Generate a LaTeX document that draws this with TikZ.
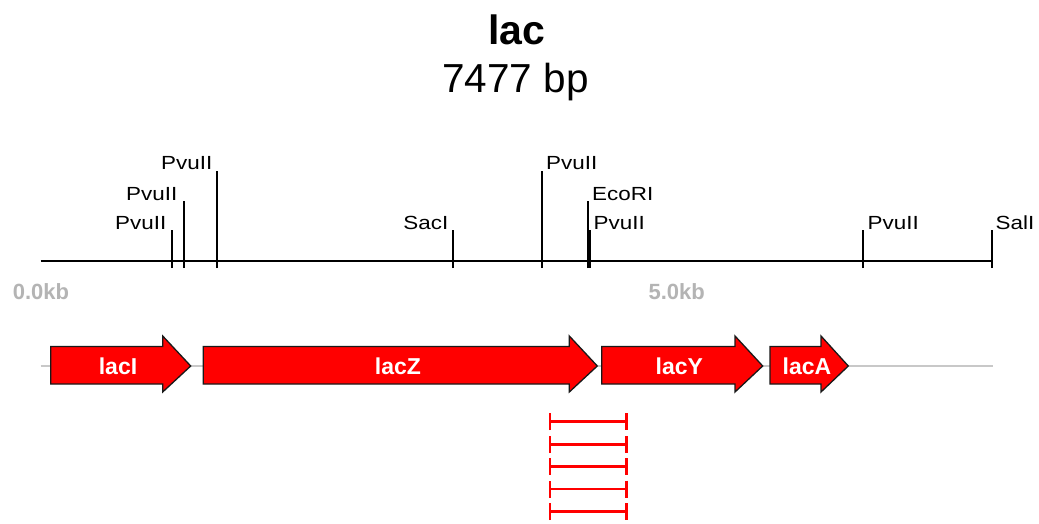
\documentclass[tikz,border=0pt]{standalone}
\usepackage{fontspec}
\setmainfont{Liberation Sans}
\newfontfamily\sitefont[FakeStretch=1.18]{Liberation Sans}
\usetikzlibrary{arrows.meta}
\definecolor{genered}{RGB}{255,0,0}
\definecolor{scalegray}{RGB}{180,180,180}
\definecolor{backbone}{RGB}{200,200,200}

\begin{document}
\begin{tikzpicture}[x=1pt, y=-1pt,
        cut/.style={line width=1.8pt, black},
        site/.style={font=\sitefont\fontsize{19}{21}\selectfont, inner sep=0pt},
        ruler/.style={font=\bfseries\fontsize{22}{24}\selectfont, text=scalegray, inner sep=0pt, anchor=base},
        gene/.style={draw=black!90, line width=1.3pt, fill=genered},
        genelabel/.style={font=\bfseries\fontsize{23}{25}\selectfont, text=white, inner sep=0pt, anchor=base},
        frag/.style={line width=2.4pt, genered, {Bar[width=17pt]}-{Bar[width=17pt]}}
    ]
        \useasboundingbox[fill=white] (0,0) rectangle (1039,524);

        % === Title ===
        \node[font=\bfseries\fontsize{41}{44}\selectfont, anchor=base] (title) at (516.7,45) {lac};
        \node[font=\fontsize{40.5}{44}\selectfont, anchor=base] (size) at (515.5,92.3) {7477 bp};

        % === Restriction map ===
        \draw[line width=2pt] (40.7,261) -- (992,261);
        \draw[cut] (172,268) -- (172,230);
        \draw[cut] (183.7,268) -- (183.7,201);
        \draw[cut] (217.3,268) -- (217.3,170.7);
        \draw[cut] (453,268) -- (453,230);
        \draw[cut] (542.3,268) -- (542.3,170.7);
        \draw[cut] (588.3,268) -- (588.3,201);
        \draw[cut] (590,268) -- (590,230);
        \draw[cut] (863.3,268) -- (863.3,230);
        \draw[cut] (992,268) -- (992,230);
        \node[site, anchor=base east] (pvu1) at (166.5,229.5) {PvuII};
        \node[site, anchor=base east] (pvu2) at (177.5,200.5) {PvuII};
        \node[site, anchor=base east] (pvu3) at (212.5,170) {PvuII};
        \node[site, anchor=base east] (sac) at (448.5,229.5) {SacI};
        \node[site, anchor=base west] (pvu4) at (546,170) {PvuII};
        \node[site, anchor=base west] (eco) at (592,200.5) {EcoRI};
        \node[site, anchor=base west] (pvu5) at (593.5,229.5) {PvuII};
        \node[site, anchor=base west] (pvu6) at (867.5,229.5) {PvuII};
        \node[site, anchor=base west] (sal) at (995.5,229.5) {SalI};
        \node[ruler] (kb0) at (41,299) {0.0kb};
        \node[ruler] (kb5) at (676.7,299) {5.0kb};

        % === Genes ===
        \draw[backbone, line width=1.3pt] (40.7,366) -- (992.7,366);
        \draw[gene] (50.7,346.5) -- (162.7,346.5) -- (162.7,336) -- (190.7,366) -- (162.7,392) -- (162.7,384) -- (50.7,384) -- cycle;
        \draw[gene] (203.3,346.5) -- (569.3,346.5) -- (569.3,336) -- (597.3,366) -- (569.3,392) -- (569.3,384) -- (203.3,384) -- cycle;
        \draw[gene] (601.7,346.5) -- (735,346.5) -- (735,336) -- (762.7,366) -- (735,392) -- (735,384) -- (601.7,384) -- cycle;
        \draw[gene] (770,346.5) -- (821,346.5) -- (821,336) -- (848.3,366) -- (821,392) -- (821,384) -- (770,384) -- cycle;
        \node[genelabel] (lacI) at (118,374) {lacI};
        \node[genelabel] (lacZ) at (398,374) {lacZ};
        \node[genelabel] (lacY) at (679.3,374) {lacY};
        \node[genelabel] (lacA) at (807,374) {lacA};

        % === Fragments ===
        \draw[frag] (549,421.5) -- (627.7,421.5);
        \draw[frag] (549,444.5) -- (627.7,444.5);
        \draw[frag] (549,466.5) -- (627.7,466.5);
        \draw[frag] (549,489) -- (627.7,489);
        \draw[frag] (549,511.5) -- (627.7,511.5);
    \end{tikzpicture}
\end{document}
